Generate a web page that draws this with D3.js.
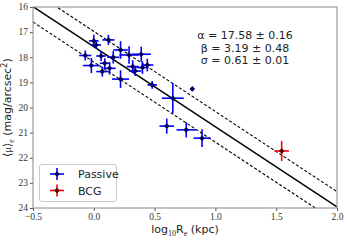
<!DOCTYPE html>
<html>
<head>
<meta charset="utf-8">
<script src="https://cdn.jsdelivr.net/npm/d3@7"></script>
<style>
body { margin: 0; background: #fff; }
svg { font-family: "DejaVu Sans", sans-serif; }
.tick text { font-family: "Liberation Serif", serif; font-size: 9.5px; fill: #333; }
</style>
</head>
<body>
<div id="chart"></div>
<script>
var width = 347;
var height = 240;

// passive galaxies: log10 Re, <mu>_e and their errors
var passiveX    = [0.00, 0.02, 0.12, -0.07, 0.06, 0.16, 0.22, 0.29, 0.39, -0.02, 0.09, 0.13, 0.07, 0.32, 0.34, 0.40, 0.44, 0.22, 0.48, 0.65, 0.81, 0.60, 0.76, 0.89];
var passiveY    = [17.35, 17.51, 17.31, 17.93, 17.95, 18.00, 17.71, 17.91, 17.88, 18.33, 18.24, 18.44, 18.57, 18.37, 18.55, 18.41, 18.31, 18.87, 19.10, 19.63, 19.26, 20.74, 20.89, 21.22];
var passiveXerr = [0.04, 0.04, 0.05, 0.05, 0.04, 0.05, 0.06, 0.08, 0.08, 0.07, 0.04, 0.05, 0.05, 0.05, 0.05, 0.05, 0.05, 0.07, 0.04, 0.09, 0.00, 0.06, 0.08, 0.07];
var passiveYerr = [0.25, 0.15, 0.20, 0.20, 0.20, 0.25, 0.35, 0.35, 0.30, 0.30, 0.20, 0.25, 0.20, 0.25, 0.20, 0.25, 0.25, 0.35, 0.15, 0.60, 0.00, 0.30, 0.30, 0.35];

var bcgX = [1.545], bcgY = [21.73], bcgXerr = [0.06], bcgYerr = [0.40];

// fit
var alpha = 17.58, beta = 3.19, sigma = 0.61;
var fitText = ["\u03b1 = 17.58 \u00b1 0.16", "\u03b2 = 3.19 \u00b1 0.48", "\u03c3 = 0.61 \u00b1 0.01"];

var xTicks = [-0.5, 0.0, 0.5, 1.0, 1.5, 2.0];
var yTicks = [16, 17, 18, 19, 20, 21, 22, 23, 24];

var margin = {t: 7, r: 10, b: 32, l: 33};

var xScale = d3.scaleLinear().domain([-0.5, 2.0]).range([margin.l, width - margin.r]);
var yScale = d3.scaleLinear().domain([16, 24]).range([margin.t, height - margin.b]);

var svg = d3.select("#chart").append("svg")
    .attr("width", width)
    .attr("height", height);

svg.append("clipPath").attr("id", "clip")
    .append("rect")
    .attr("x", margin.l).attr("y", margin.t)
    .attr("width", width - margin.r - margin.l)
    .attr("height", height - margin.b - margin.t);

// axes
var xAxis = d3.axisBottom(xScale).tickValues(xTicks).tickSize(3).tickPadding(2)
    .tickFormat(function(d) { return d < 0 ? "\u22120.5" : d3.format(".1f")(d); });
var yAxis = d3.axisLeft(yScale).tickValues(yTicks).tickSize(3).tickPadding(2).tickFormat(d3.format("d"));

var gx = svg.append("g").attr("transform", "translate(0," + (height - margin.b) + ")").call(xAxis);
var gy = svg.append("g").attr("transform", "translate(" + margin.l + ",0)").call(yAxis);
gx.select(".domain").remove();
gy.select(".domain").remove();
gy.selectAll(".tick text").attr("dy", "0.3em");
svg.selectAll(".tick line").attr("stroke", "#555");

// fit lines
var plot = svg.append("g").attr("clip-path", "url(#clip)");
var line = d3.line().x(function(d) { return xScale(d); });
var xs = [-0.5, 2.0];
[[0, null], [-sigma, "3,2"], [sigma, "3,2"]].forEach(function(o) {
    plot.append("path")
        .datum(xs)
        .attr("d", line.y(function(d) { return yScale(alpha + beta * d + o[0]); }))
        .attr("fill", "none")
        .attr("stroke", "black")
        .attr("stroke-width", o[1] ? 1.1 : 1.5)
        .attr("stroke-dasharray", o[1]);
});

function drawPoints(X, Y, Xe, Ye, ecolor, mcolor) {
    var g = plot.append("g");
    X.forEach(function(x, i) {
        var cx = xScale(x), cy = yScale(Y[i]);
        if (Xe[i] > 0) {
            g.append("line").attr("x1", xScale(x - Xe[i])).attr("x2", xScale(x + Xe[i]))
                .attr("y1", cy).attr("y2", cy).attr("stroke", ecolor).attr("stroke-width", 1.6);
            g.append("line").attr("x1", cx).attr("x2", cx)
                .attr("y1", yScale(Y[i] - Ye[i])).attr("y2", yScale(Y[i] + Ye[i]))
                .attr("stroke", ecolor).attr("stroke-width", 1.6);
        }
        g.append("path")
            .attr("d", d3.symbol(d3.symbolDiamond2, 20)())
            .attr("transform", "translate(" + cx + "," + cy + ")")
            .attr("fill", mcolor);
    });
}
drawPoints(passiveX, passiveY, passiveXerr, passiveYerr, "#0000ff", "#00005a");
drawPoints(bcgX, bcgY, bcgXerr, bcgYerr, "#ff0000", "#4a0000");

// frame
svg.append("rect")
    .attr("x", margin.l).attr("y", margin.t)
    .attr("width", width - margin.r - margin.l)
    .attr("height", height - margin.b - margin.t)
    .attr("fill", "none").attr("stroke", "#888").attr("stroke-width", 1);

// fit annotation
svg.append("g").selectAll("text")
    .data(fitText)
    .enter().append("text")
    .attr("x", 245)
    .attr("y", function(d, i) { return 39 + i * 12.5; })
    .attr("text-anchor", "middle")
    .attr("font-size", 11)
    .attr("fill", "#222")
    .text(function(d) { return d; });

// legend
var legend = svg.append("g");
legend.append("rect")
    .attr("x", 39.5).attr("y", 164.5).attr("width", 77).attr("height", 37).attr("rx", 2.5)
    .attr("fill", "white").attr("fill-opacity", 0.85).attr("stroke", "#ccc");
[["Passive", "#0000ff", "#00005a"], ["BCG", "#ff0000", "#4a0000"]].forEach(function(e, i) {
    var ly = 174 + i * 16.5;
    legend.append("line").attr("x1", 50).attr("x2", 64).attr("y1", ly).attr("y2", ly)
        .attr("stroke", e[1]).attr("stroke-width", 1.6);
    legend.append("line").attr("x1", 57).attr("x2", 57).attr("y1", ly - 6).attr("y2", ly + 6)
        .attr("stroke", e[1]).attr("stroke-width", 1.6);
    legend.append("path").attr("d", d3.symbol(d3.symbolDiamond2, 20)())
        .attr("transform", "translate(57," + ly + ")").attr("fill", e[2]);
    legend.append("text").attr("x", 78).attr("y", ly + 4).attr("font-size", 11).attr("fill", "#222").text(e[0]);
});

// axis labels
var xl = svg.append("text")
    .attr("x", (margin.l + width - margin.r) / 2)
    .attr("y", 233)
    .attr("text-anchor", "middle")
    .attr("font-size", 11)
    .attr("fill", "#222");
xl.append("tspan").text("log");
xl.append("tspan").attr("font-size", 8).attr("dy", 3).attr("font-family", "Liberation Serif, serif").text("10");
xl.append("tspan").attr("dy", -3).text("R");
xl.append("tspan").attr("font-size", 8).attr("dy", 3).attr("font-family", "Liberation Serif, serif").text("e");
xl.append("tspan").attr("dy", -3).text(" (kpc)");

var yl = svg.append("text")
    .attr("transform", "translate(11," + ((margin.t + height - margin.b) / 2) + ") rotate(-90)")
    .attr("text-anchor", "middle")
    .attr("font-size", 11)
    .attr("fill", "#222");
yl.append("tspan").attr("font-family", "Liberation Serif, serif").text("\u27e8\u03bc\u27e9");
yl.append("tspan").attr("font-size", 8).attr("dy", 3).attr("font-family", "Liberation Serif, serif").text("e");
yl.append("tspan").attr("dy", -3).text(" (mag/arcsec");
yl.append("tspan").attr("font-size", 8).attr("dy", -4).text("2");
yl.append("tspan").attr("dy", 4).text(")");
</script>
</body>
</html>
